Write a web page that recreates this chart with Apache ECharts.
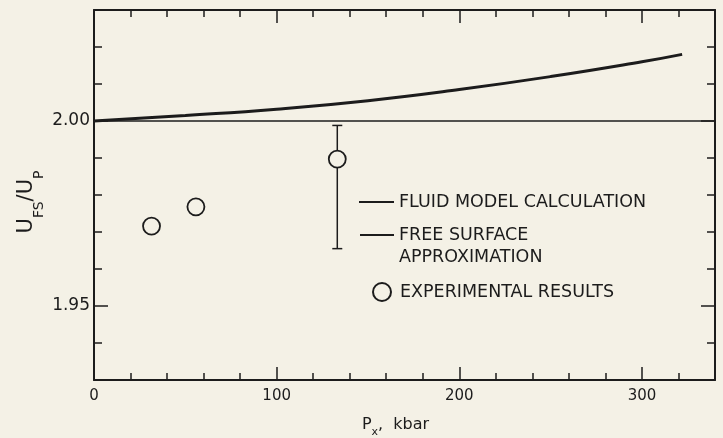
<!DOCTYPE html>
<html><head><meta charset="utf-8">
<script src="https://cdn.jsdelivr.net/npm/echarts@6/dist/echarts.min.js"></script>
<style>html,body{margin:0;padding:0;background:#f4f1e6}#c{width:723px;height:438px}</style>
</head><body><div id="c"></div>
<script>
// ---- data ----
const fluidX = [0, 50, 100, 150, 200, 250, 300, 322];
const fluidY = [2.000, 2.0015, 2.0032, 2.0055, 2.0085, 2.012, 2.016, 2.018];
const freeX = [0, 340];
const freeY = [2.00, 2.00];
const expX = [31.5, 55.8, 133.2];
const expY = [1.9716, 1.9768, 1.9897];
const errX = [133.2];
const errLow = [1.9655];
const errHigh = [1.9988];
const xMajorTicks = [0, 100, 200, 300];
const yMajorTicks = [1.95, 2.00];
const seriesNames = ['FLUID MODEL CALCULATION', 'FREE SURFACE\nAPPROXIMATION', 'EXPERIMENTAL RESULTS'];

// ---- style ----
const INK = '#1c1c1c';
const BG = '#f4f1e6';
const FONT = 'DejaVu Sans';

function xAx(pos, major, showLabel) {
  const a = {
    type: 'value', position: pos, min: 0, max: 340, splitLine: {show: false},
    axisLine: {show: major, onZero: false, lineStyle: {color: INK, width: 2}},
    axisTick: {show: true, inside: true, length: major ? 13 : 7, lineStyle: {color: INK, width: 1.5}},
    axisLabel: {show: false}
  };
  if (major) {
    a.axisTick.customValues = xMajorTicks;
    a.axisLabel = {show: showLabel, customValues: xMajorTicks, color: INK, fontFamily: FONT, fontSize: 15, margin: 9};
  } else {
    a.interval = 20;
  }
  return a;
}
function yAx(pos, major, showLabel) {
  const a = {
    type: 'value', position: pos, min: 1.93, max: 2.03, splitLine: {show: false},
    axisLine: {show: major, onZero: false, lineStyle: {color: INK, width: 2}},
    axisTick: {show: true, inside: true, length: major ? 14 : 8, lineStyle: {color: INK, width: 1.5}},
    axisLabel: {show: false}
  };
  if (major) {
    a.axisTick.customValues = yMajorTicks;
    a.axisLabel = {show: showLabel, customValues: yMajorTicks, color: INK, fontFamily: FONT, fontSize: 17, margin: 4,
      formatter: v => v.toFixed(2)};
  } else {
    a.interval = 0.01;
  }
  return a;
}

const xAxes = [xAx('bottom', true, true), xAx('bottom', false), xAx('top', true, false), xAx('top', false)];
xAxes[0].name = '{m|P}{s|x}{m|,  kbar}';
xAxes[0].nameLocation = 'middle';
xAxes[0].nameGap = 32;
xAxes[0].nameMoveOverlap = false;
xAxes[0].nameTextStyle = {color: INK, fontFamily: FONT, fontSize: 16, padding: [0, 18, 0, 0],
  rich: {m: {fontSize: 16, fontFamily: FONT, color: INK, lineHeight: 20},
         s: {fontSize: 11, fontFamily: FONT, color: INK, lineHeight: 26, verticalAlign: 'bottom'}}};

const yAxes = [yAx('left', true, true), yAx('left', false), yAx('right', true, false), yAx('right', false)];
yAxes[0].name = '{m|U}{s|FS}{m|/U}{s|P}';
yAxes[0].nameLocation = 'middle';
yAxes[0].nameRotate = 90;
yAxes[0].nameGap = 48;
yAxes[0].nameMoveOverlap = false;
yAxes[0].nameTextStyle = {color: INK, fontFamily: FONT, fontSize: 21, padding: [0, 14, 0, 0],
  rich: {m: {fontSize: 21, fontFamily: FONT, color: INK, lineHeight: 24},
         s: {fontSize: 14, fontFamily: FONT, color: INK, lineHeight: 38, verticalAlign: 'bottom'}}};

const legendText = {color: INK, fontFamily: FONT, fontSize: 17.5, lineHeight: 22};

const option = {
  backgroundColor: BG,
  animation: false,
  grid: {left: 94, right: 8, top: 10, bottom: 58, containLabel: false, outerBoundsMode: 'none'},
  xAxis: xAxes,
  yAxis: yAxes,
  legend: [
    {data: [seriesNames[0]], left: 358, top: 191, padding: 0, itemWidth: 35, itemHeight: 22, selectedMode: false,
     textStyle: legendText},
    {data: [seriesNames[1]], left: 359, top: 202, padding: 0, itemWidth: 34, itemHeight: 22, selectedMode: false,
     formatter: n => ' \n' + n, textStyle: legendText},
    {data: [seriesNames[2]], left: 372, top: 281, padding: 0, itemWidth: 18, itemHeight: 18, selectedMode: false,
     textStyle: Object.assign({}, legendText, {padding: [0, 0, 0, 4]})}
  ],
  series: [
    {name: seriesNames[0], type: 'line', xAxisIndex: 0, yAxisIndex: 0, symbol: 'none', smooth: true,
     data: fluidX.map((x, i) => [x, fluidY[i]]),
     lineStyle: {color: INK, width: 3}, itemStyle: {color: 'rgba(0,0,0,0)', borderWidth: 0}, z: 3},
    {name: seriesNames[1], type: 'line', xAxisIndex: 0, yAxisIndex: 0, symbol: 'none',
     data: freeX.map((x, i) => [x, freeY[i]]),
     lineStyle: {color: INK, width: 1.6}, itemStyle: {color: 'rgba(0,0,0,0)', borderWidth: 0}, z: 3},
    {name: 'error', type: 'custom', xAxisIndex: 0, yAxisIndex: 0,
     data: errX.map((x, i) => [x, errLow[i], errHigh[i]]),
     encode: {x: 0, y: [1, 2]},
     renderItem: function (params, api) {
       const x = api.value(0);
       const lo = api.coord([x, api.value(1)]);
       const hi = api.coord([x, api.value(2)]);
       const st = {stroke: INK, lineWidth: 1.5};
       return {type: 'group', children: [
         {type: 'line', shape: {x1: lo[0], y1: lo[1], x2: hi[0], y2: hi[1]}, style: st},
         {type: 'line', shape: {x1: lo[0] - 5, y1: lo[1], x2: lo[0] + 5, y2: lo[1]}, style: st},
         {type: 'line', shape: {x1: hi[0] - 5, y1: hi[1], x2: hi[0] + 5, y2: hi[1]}, style: st}
       ]};
     }, z: 4},
    {name: seriesNames[2], type: 'scatter', xAxisIndex: 0, yAxisIndex: 0, symbol: 'circle', symbolSize: 17,
     data: expX.map((x, i) => [x, expY[i]]),
     itemStyle: {color: BG, borderColor: INK, borderWidth: 1.8, opacity: 1}, z: 5}
  ]
};
const chart = echarts.init(document.getElementById('c'), null, {renderer: 'canvas'});
chart.setOption(option);
</script>
</body></html>
